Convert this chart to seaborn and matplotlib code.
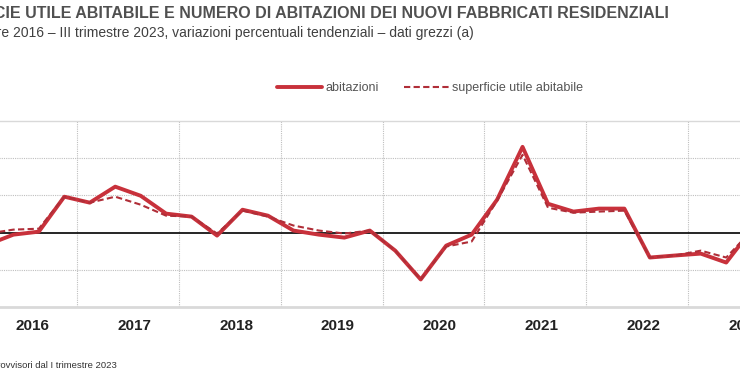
import numpy as np
import pandas as pd
import matplotlib
matplotlib.use("Agg")
import matplotlib.pyplot as plt
import seaborn as sns

# quarters from I 2016 to III 2023
years = ["2016", "2017", "2018", "2019", "2020", "2021", "2022", "2023"]
quarters = [f"{y} Q{q}" for y in years for q in range(1, 5)][:31]

abitazioni = [-6.4, -1.1, 0.5, 19.3,
              16.1, 24.7, 19.8, 10.2,
              8.6, -1.6, 12.3, 9.1,
              1.1, -1.1, -2.7, 1.1,
              -9.7, -25.2, -7.0, -1.1,
              17.7, 46.1, 15.5, 11.3,
              12.9, 12.9, -13.4, -12.3,
              -11.3, -16.1, 1.6]
superficie = [-0.5, 1.6, 2.1, 19.3,
              16.1, 19.3, 15.0, 9.1,
              8.6, -0.5, 11.8, 8.6,
              3.8, 1.1, -0.5, 1.1,
              -9.7, -25.2, -7.5, -4.8,
              17.2, 41.8, 13.4, 10.7,
              11.3, 11.8, -13.4, -12.3,
              -9.7, -13.4, 1.1]

df = pd.DataFrame({"idx": np.arange(len(quarters)), "quarter": quarters,
                   "abitazioni": abitazioni, "superficie utile abitabile": superficie})

sns.set_style("white")
plt.rcParams["font.family"] = ["Liberation Sans", "DejaVu Sans"]

W, H = 740, 389
fig = plt.figure(figsize=(W / 100, H / 100), dpi=100)

# axes extends past the left/right edge of the figure, like the cropped original
x0, x1 = -24.8, 764.4
ax = fig.add_axes([x0 / W, (H - 307) / H, (x1 - x0) / W, (307 - 121) / H])

red = "#c8313b"
sns.lineplot(data=df, x="idx", y="abitazioni", ax=ax, color=red, lw=2.8,
             label="abitazioni", zorder=3)
sns.lineplot(data=df, x="idx", y="superficie utile abitabile", ax=ax, color="#b02e38",
             lw=1.5, label="superficie utile abitabile", zorder=4)
ax.lines[1].set_linestyle((0, (3, 1.6)))

ax.set_xlim(-0.5, 30.5)
ax.set_ylim(-40, 60)
ax.set_xlabel("")
ax.set_ylabel("")

# year separators
ax.set_xticks(np.arange(3.5, 31, 4), minor=True)
ax.set_xticks(np.arange(len(years)) * 4 + 1.75)
ax.set_xticklabels(years, fontsize=11, fontweight="bold", color="#222222")
ax.tick_params(axis="x", which="both", length=0, pad=9)
ax.set_yticks([-20, 20, 40])
ax.set_yticklabels([])
ax.tick_params(axis="y", length=0)
ax.grid(True, which="minor", axis="x", color="#bfbfbf", ls=(0, (1, 1)), lw=0.8)
ax.grid(True, which="major", axis="y", color="#bfbfbf", ls=(0, (1, 1)), lw=0.8)
ax.axhline(0, color="black", lw=1.2, zorder=2)

for s in ["left", "right"]:
    ax.spines[s].set_visible(False)
ax.spines["top"].set_color("#d9d9d9")
ax.spines["top"].set_linewidth(1.0)
ax.spines["bottom"].set_color("#d9d9d9")
ax.spines["bottom"].set_linewidth(2.0)

ax.legend_.remove()
h, l = ax.get_legend_handles_labels()
fig.legend(h, l, loc="center", bbox_to_anchor=(430 / W, 1 - 88 / H), ncol=2,
           frameon=False, fontsize=9, handlelength=3.6, columnspacing=2.0,
           handletextpad=0.3, labelcolor="#555555")

fig.text(669 / W, 1 - 13 / H,
         "SUPERFICIE UTILE ABITABILE E NUMERO DI ABITAZIONI DEI NUOVI FABBRICATI RESIDENZIALI",
         ha="right", va="center", fontsize=11.5, fontweight="bold", color="#505050")
fig.text(474 / W, 1 - 33 / H,
         "I trimestre 2016 \u2013 III trimestre 2023, variazioni percentuali tendenziali \u2013 dati grezzi (a)",
         ha="right", va="center", fontsize=10, color="#404040")
fig.text(117 / W, 1 - 365 / H, "(a) Dati provvisori dal I trimestre 2023",
         ha="right", va="center", fontsize=6.8, color="#333333")

fig.savefig("out.png", dpi=100)
